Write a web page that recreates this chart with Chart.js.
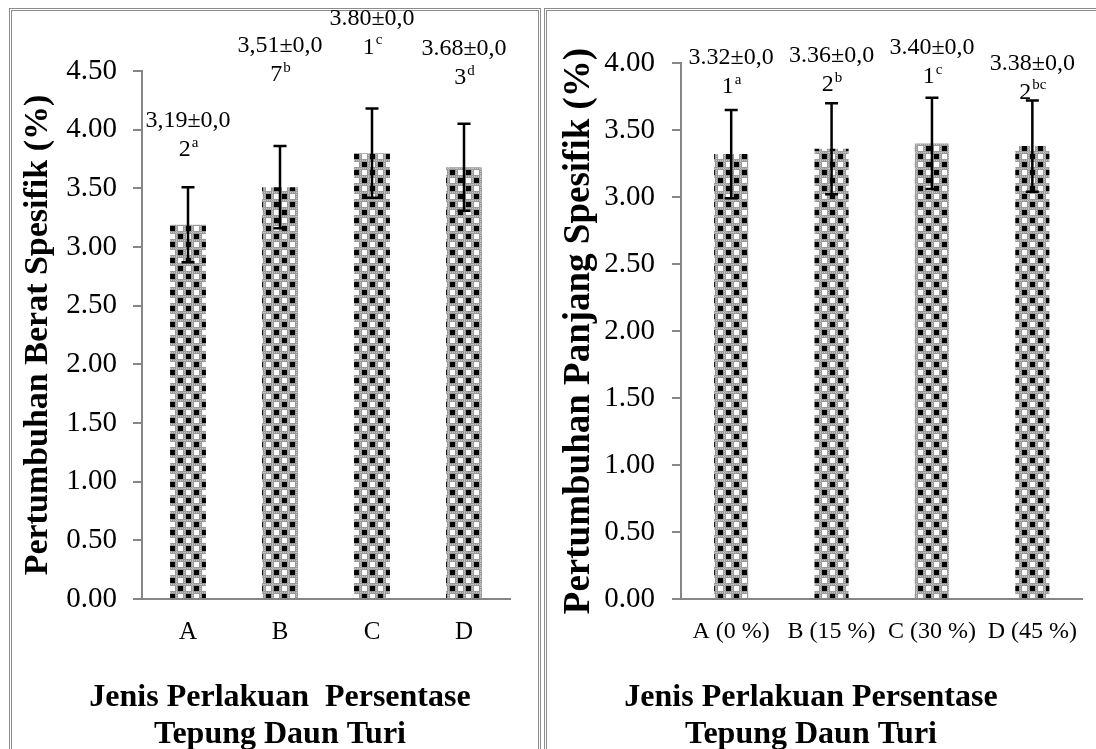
<!DOCTYPE html>
<html>
<head>
<meta charset="utf-8">
<script src="https://cdn.jsdelivr.net/npm/chart.js@4.4.0/dist/chart.umd.min.js"></script>
<style>
  html, body { margin: 0; padding: 0; background: #fff; overflow: hidden; }
  #page { position: relative; width: 1096px; height: 749px; overflow: hidden; }
  .box { position: absolute; border: 3px double #8c8c8c; box-sizing: border-box; }
  #boxL { left: 9px; top: 8px; width: 532px; height: 770px; }
  #boxR { left: 544px; top: 8px; width: 580px; height: 770px; }
  canvas { position: absolute; top: 0; }
  #chartL { left: 0; }
  #chartR { left: 548px; }
</style>
</head>
<body>
<div id="page">
  <div class="box" id="boxL"></div>
  <div class="box" id="boxR"></div>
  <canvas id="chartL" width="548" height="760"></canvas>
  <canvas id="chartR" width="548" height="760"></canvas>
</div>
<script>
// data
const categoriesBerat = ["A", "B", "C", "D"];
const beratValues = [3.19, 3.51, 3.80, 3.68];
const beratErrors = [0.32, 0.35, 0.38, 0.37];
const beratText = ["3,19±0,0", "3,51±0,0", "3.80±0,0", "3.68±0,0"];
const beratText2 = ["2", "7", "1", "3"];
const beratLetters = ["a", "b", "c", "d"];

const categoriesPanjang = ["A (0 %)", "B (15 %)", "C (30 %)", "D (45 %)"];
const panjangValues = [3.32, 3.36, 3.40, 3.38];
const panjangErrors = [0.33, 0.34, 0.34, 0.34];
const panjangText = ["3.32±0,0", "3.36±0,0", "3.40±0,0", "3.38±0,0"];
const panjangText2 = ["1", "2", "1", "2"];
const panjangLetters = ["a", "b", "c", "bc"];

const serif = '"Liberation Serif", "Times New Roman", serif';

// checkered fill like the excel pattern
function makePattern(ctx) {
  const c = document.createElement("canvas");
  c.width = 16;
  c.height = 16;
  const g = c.getContext("2d");
  g.fillStyle = "#9a9a9a";
  g.fillRect(0, 0, 16, 16);
  // dotted look on the gray grid lines
  g.fillStyle = "#c4c4c4";
  for (let i = 0; i < 16; i += 2) {
    g.fillRect(i, 0, 1, 1);
    g.fillRect(0, i + 1, 1, 1);
    g.fillRect(i + 1, 8, 1, 1);
    g.fillRect(8, i, 1, 1);
  }
  g.fillStyle = "#ffffff";
  g.fillRect(2, 2, 5, 5);
  g.fillRect(10, 10, 5, 5);
  g.fillStyle = "#000000";
  g.fillRect(10, 2, 5, 5);
  g.fillRect(2, 10, 5, 5);
  return ctx.createPattern(c, "repeat");
}

// error bars and the value labels above them
const errorBars = {
  id: "errorBars",
  afterDatasetsDraw(chart, args, opts) {
    const ctx = chart.ctx;
    const yScale = chart.scales.y;
    const meta = chart.getDatasetMeta(0);
    const values = chart.data.datasets[0].data;
    ctx.save();
    meta.data.forEach((bar, i) => {
      const top = yScale.getPixelForValue(values[i] + opts.errors[i]);
      const bot = yScale.getPixelForValue(values[i] - opts.errors[i]);
      ctx.strokeStyle = "#000";
      ctx.lineWidth = 2.5;
      ctx.beginPath();
      ctx.moveTo(bar.x, top);
      ctx.lineTo(bar.x, bot);
      ctx.moveTo(bar.x - 6.5, top);
      ctx.lineTo(bar.x + 6.5, top);
      ctx.moveTo(bar.x - 6.5, bot);
      ctx.lineTo(bar.x + 6.5, bot);
      ctx.stroke();

      // two line label, second line has a superscript letter
      const y2 = top - opts.lift[i];
      const y1 = y2 - 29;
      ctx.fillStyle = "#000";
      ctx.textBaseline = "middle";
      ctx.textAlign = "center";
      ctx.font = "24px " + serif;
      ctx.fillText(opts.text[i], bar.x, y1);
      ctx.textAlign = "left";
      const w1 = ctx.measureText(opts.text2[i]).width;
      ctx.font = "15px " + serif;
      const w2 = ctx.measureText(opts.letters[i]).width;
      const x0 = bar.x - (w1 + w2) / 2;
      ctx.font = "24px " + serif;
      ctx.fillText(opts.text2[i], x0, y2);
      ctx.font = "15px " + serif;
      ctx.fillText(opts.letters[i], x0 + w1 + 1, y2 - 7);
    });
    ctx.restore();
  }
};

// x axis title, not centred on the plot in the original
const xTitle = {
  id: "xTitle",
  afterDraw(chart, args, opts) {
    const ctx = chart.ctx;
    ctx.save();
    ctx.fillStyle = "#000";
    ctx.font = "bold 32px " + serif;
    ctx.textAlign = "center";
    ctx.textBaseline = "middle";
    opts.lines.forEach((line, i) => {
      ctx.fillText(line, opts.x, opts.y + i * 37);
    });
    ctx.restore();
  }
};

function drawChart(id, labels, values, cfg) {
  const ctx = document.getElementById(id).getContext("2d");
  return new Chart(ctx, {
    type: "bar",
    data: {
      labels: labels,
      datasets: [
        {
          data: values,
          backgroundColor: makePattern(ctx),
          borderWidth: 0,
          categoryPercentage: 1,
          barPercentage: cfg.barPct
        }
      ]
    },
    plugins: [errorBars, xTitle],
    options: {
      responsive: false,
      animation: false,
      layout: { padding: { top: cfg.top, right: cfg.right, left: 0, bottom: 0 } },
      plugins: {
        legend: { display: false },
        tooltip: { enabled: false },
        errorBars: cfg.labels,
        xTitle: cfg.xTitle
      },
      scales: {
        x: {
          grid: { display: false, drawTicks: false, tickLength: 0 },
          border: { color: "#868686", width: 2 },
          ticks: { color: "#000", padding: cfg.xPad, font: { family: serif, size: cfg.xFont } },
          afterFit: (scale) => { scale.height = 161; }
        },
        y: {
          min: 0,
          max: cfg.max,
          grid: { drawOnChartArea: false, drawTicks: true, tickLength: 9, color: "#868686", lineWidth: 2 },
          border: { color: "#868686", width: 2 },
          ticks: {
            stepSize: 0.5,
            color: "#000",
            padding: cfg.yPad,
            font: { family: serif, size: 29 },
            callback: (v) => v.toFixed(2)
          },
          title: {
            display: true,
            text: cfg.yTitle,
            color: "#000",
            font: { family: serif, size: cfg.titleSize, weight: "bold" },
            padding: { top: cfg.titlePad, bottom: 0 }
          },
          afterFit: (scale) => { scale.width = cfg.yWidth; }
        }
      }
    }
  });
}

drawChart("chartL", categoriesBerat, beratValues, {
  barPct: 0.39,
  top: 71,
  right: 38,
  max: 4.5,
  xFont: 25,
  xPad: 18,
  yPad: 16,
  yWidth: 142,
  titleSize: 34,
  titlePad: 18,
  yTitle: "Pertumbuhan Berat Spesifik (%)",
  labels: {
    errors: beratErrors,
    text: beratText,
    text2: beratText2,
    letters: beratLetters,
    lift: [37, 71, 61, 46]
  },
  xTitle: { lines: ["Jenis Perlakuan  Persentase", "Tepung Daun Turi"], x: 280, y: 698 }
});

drawChart("chartR", categoriesPanjang, panjangValues, {
  barPct: 0.34,
  top: 63,
  right: 8,
  max: 4.0,
  xFont: 24,
  xPad: 18,
  yPad: 17,
  yWidth: 133,
  titleSize: 37,
  titlePad: 9,
  yTitle: "Pertumbuhan Panjang Spesifik (%)",
  labels: {
    errors: panjangErrors,
    text: panjangText,
    text2: panjangText2,
    letters: panjangLetters,
    lift: [23, 18, 21, 8]
  },
  xTitle: { lines: ["Jenis Perlakuan Persentase", "Tepung Daun Turi"], x: 263, y: 698 }
});
</script>
</body>
</html>
